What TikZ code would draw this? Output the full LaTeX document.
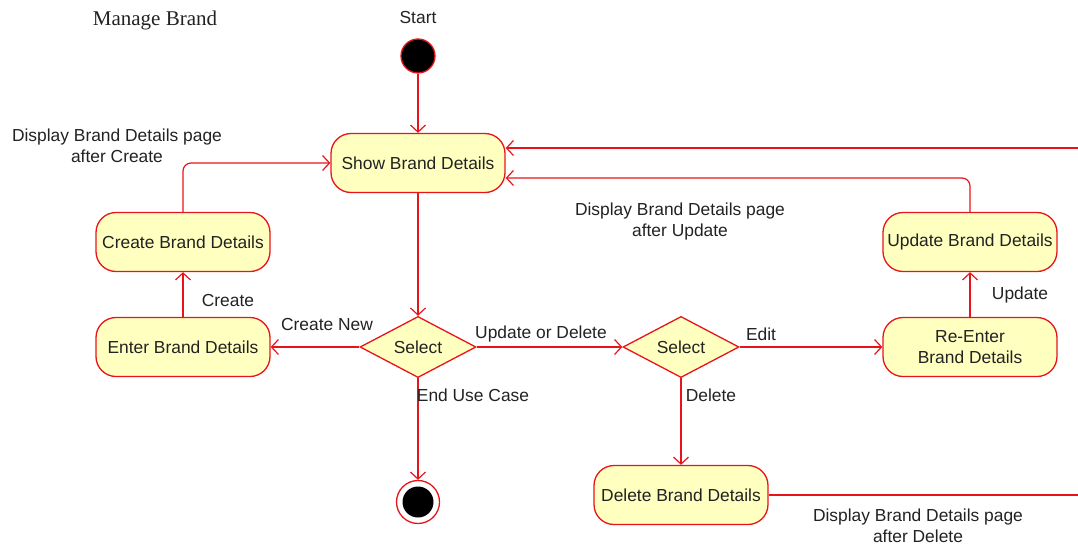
\documentclass[tikz,border=0pt]{standalone}
\usepackage{fontspec}
\setmainfont{Liberation Sans}
\newfontfamily\serifttl{Liberation Serif}
\usetikzlibrary{arrows.meta,shapes.geometric}
\definecolor{umlfill}{HTML}{FFFFC0}
\definecolor{umlred}{HTML}{E8141C}
\definecolor{txt}{HTML}{222222}
\begin{document}
\begin{tikzpicture}[x=1pt,y=-1pt,
  every node/.style={font=\fontsize{17.4}{21}\selectfont, text=txt},
  act/.style={draw=umlred, fill=umlfill, line width=1.3pt, rounded corners=20pt,
    minimum width=174pt, minimum height=59pt, inner sep=0pt, align=center},
  choice/.style={draw=umlred, fill=umlfill, line width=1.3pt, diamond,
    minimum width=116pt, minimum height=57pt, inner sep=0pt},
  flow/.style={draw=umlred, line width=1.2pt, rounded corners=8pt,
    -{Straight Barb[length=7pt,width=15pt]}},
  plain/.style={draw=umlred, line width=1.2pt},
  lbl/.style={inner sep=0pt, align=center}]
\useasboundingbox (0,0) rectangle (1078,546);

\node[lbl, font=\serifttl\fontsize{21}{24}\selectfont] (title) at (155,20) {Manage Brand};
\node[lbl] (startlbl) at (418,18) {Start};
\node[circle, draw=umlred, fill=black, line width=1.3pt, minimum size=34pt, inner sep=0pt] (start) at (418,56) {};

\node[act] (show) at (418,163) {Show Brand Details};
\node[act] (create) at (183,242) {Create Brand Details};
\node[act] (enter) at (183,347) {Enter Brand Details};
\node[choice] (sel1) at (418,347) {Select};
\node[choice] (sel2) at (681,347) {Select};
\node[act] (reenter) at (970,347) {Re-Enter\\Brand Details};
\node[act] (update) at (970,242) {Update Brand Details};
\node[act] (delete) at (681,495) {Delete Brand Details};

\node[circle, draw=umlred, fill=white, line width=1.3pt, minimum size=43pt, inner sep=0pt] (endnode) at (418,502) {};
\node[circle, fill=black, minimum size=31pt, inner sep=0pt] (enddot) at (418,502) {};

\coordinate (topin) at (1078,148);
\coordinate (delout) at (1078,495);

% connectors
\draw[flow] (start) -- (show);
\draw[flow] (show) -- (sel1);
\draw[flow] (sel1) -- (enter);
\draw[flow] (enter) -- (create);
\draw[flow] (create.north) |- (show.west);
\draw[flow] (sel1) -- (sel2);
\draw[flow] (sel2) -- (reenter);
\draw[flow] (reenter) -- (update);
\draw[flow] (update.north) |- ([yshift=-15pt]show.east);
\draw[flow] (topin) -- (topin -| show.east);
\draw[flow] (sel1) -- (endnode);
\draw[flow] (sel2) -- (delete);
\draw[plain] (delete) -- (delout);

% labels
\node[lbl] (l1) at (117,146) {Display Brand Details page\\after Create};
\node[lbl] (l2) at (228,301) {Create};
\node[lbl] (l3) at (327,325) {Create New};
\node[lbl] (l4) at (541,334) {Update or Delete};
\node[lbl] (l5) at (761,334) {Edit};
\node[lbl] (l6) at (1020,295) {Update};
\node[lbl] (l7) at (680,221) {Display Brand Details page\\after Update};
\node[lbl] (l8) at (473,395) {End Use Case};
\node[lbl] (l9) at (711,395) {Delete};
\node[lbl] (l10) at (918,526) {Display Brand Details page\\after Delete};
\end{tikzpicture}
\end{document}
